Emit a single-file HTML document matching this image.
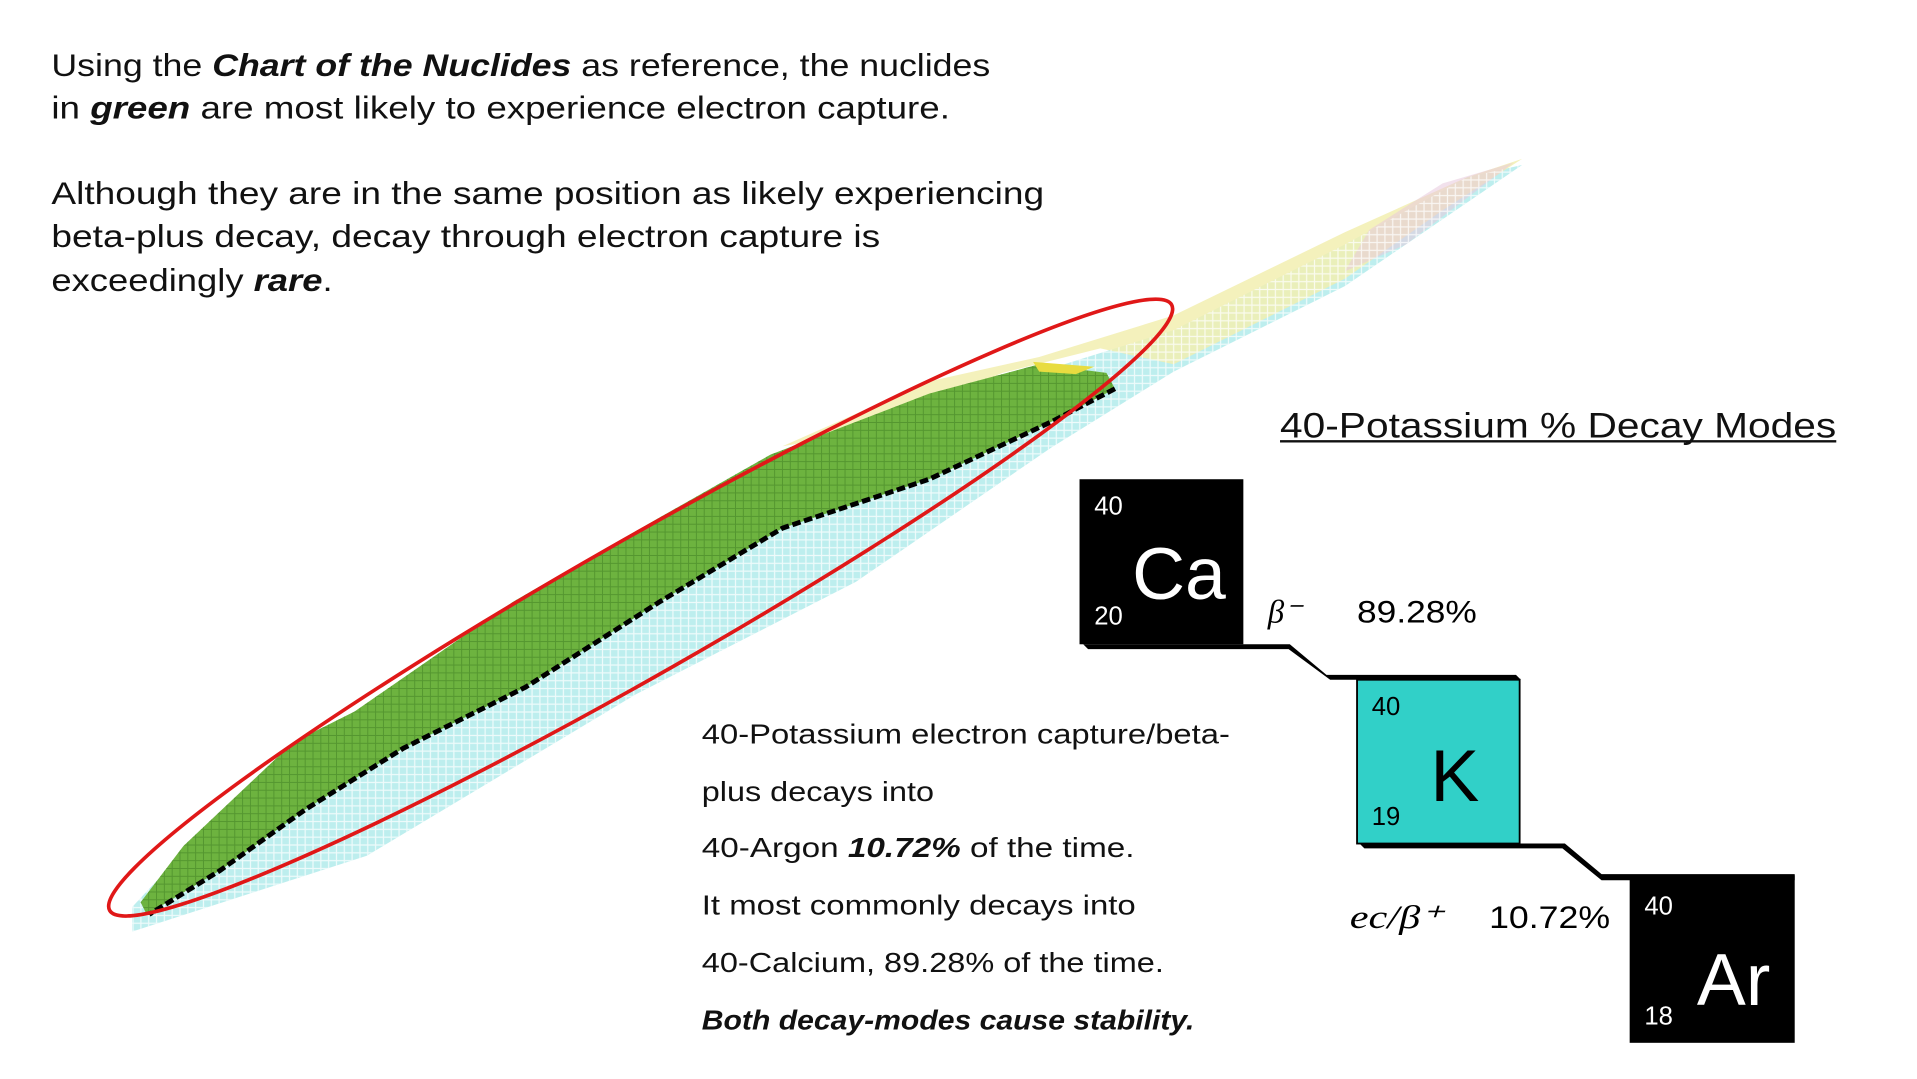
<!DOCTYPE html>
<html><head><meta charset="utf-8"><style>
html,body{margin:0;padding:0;background:#fff;overflow:hidden}
svg{display:block;font-family:"Liberation Sans",sans-serif}
</style></head><body>
<svg width="1917" height="1079" viewBox="0 0 1568 882.6">
<defs>
<pattern id="grid" width="6.4" height="6.4" patternUnits="userSpaceOnUse"><rect width="6.4" height="6.4" fill="none" stroke="#fff" stroke-width="1" opacity="0.75"/></pattern>
<pattern id="gridg" width="6.4" height="6.4" patternUnits="userSpaceOnUse"><rect width="6.4" height="6.4" fill="none" stroke="#4a8a2a" stroke-width="0.8" opacity="0.7"/></pattern>
</defs>
<g>
<polygon fill="#bdeeee" points="108,762 300,700 520,568 700,476 860,366 960,304 1100,234 1245,135 1200,145 1100,200 960,270 800,320 640,380 520,455 400,525 280,595 180,665 108,742"/>
<polygon fill="#f2eeb0" opacity="0.85" points="1245,130 1200,145 1100,190 960,258 850,292 760,312 640,365 700,355 820,305 900,285 960,298 1100,228 1180,172"/>
<polygon fill="#e8c8dc" opacity="0.55" points="1180,150 1238,133 1150,200 1100,222 1120,188"/>
<polygon fill="url(#grid)" points="108,762 300,700 520,568 700,476 860,366 960,304 1100,234 1245,135 1200,145 1100,200 960,270 800,320 640,380 520,455 400,525 280,595 180,665 108,742"/>
<polygon fill="#6db33f" points="115,738 150,692 240,607 290,582 420,492 540,423 630,372 760,322 850,298 905,305 912,318 860,345 760,392 640,432 540,492 430,562 330,612 250,662 180,712 120,748"/>
<polygon fill="url(#gridg)" points="115,738 150,692 240,607 290,582 420,492 540,423 630,372 760,322 850,298 905,305 912,318 860,345 760,392 640,432 540,492 430,562 330,612 250,662 180,712 120,748"/>
<polygon fill="#e8dc40" points="845,296 895,300 880,306 850,304"/>
<polyline fill="none" stroke="#000" stroke-width="4" stroke-dasharray="7 3" points="912,318 860,345 760,392 640,432 540,492 430,562 330,612 250,662 180,712 122,748"/>
</g>
<ellipse cx="524" cy="497" rx="500" ry="55" transform="rotate(-29.7 524 497)" fill="none" stroke="#e01818" stroke-width="3"/>
<g font-size="26" fill="#111">
<text x="42" y="62" textLength="768" lengthAdjust="spacingAndGlyphs">Using the <tspan font-weight="bold" font-style="italic">Chart of the Nuclides</tspan> as reference, the nuclides</text>
<text x="42" y="97" textLength="735" lengthAdjust="spacingAndGlyphs">in <tspan font-weight="bold" font-style="italic">green</tspan> are most likely to experience electron capture.</text>
<text x="42" y="167" textLength="812" lengthAdjust="spacingAndGlyphs">Although they are in the same position as likely experiencing</text>
<text x="42" y="202" textLength="678" lengthAdjust="spacingAndGlyphs">beta-plus decay, decay through electron capture is</text>
<text x="42" y="238" textLength="230" lengthAdjust="spacingAndGlyphs">exceedingly <tspan font-weight="bold" font-style="italic">rare</tspan>.</text>
</g>
<text x="1047" y="358" font-size="29" textLength="455" lengthAdjust="spacingAndGlyphs" fill="#111">40-Potassium  % Decay Modes</text>
<line x1="1047" y1="361" x2="1502" y2="361" stroke="#111" stroke-width="2"/>
<g>
<polygon fill="#000" points="886,527 1055,527 1085,552 1240,552 1244,556 1110,556 1088,556 1054,531 890,531"/>
<polygon fill="#000" points="1112,690 1280,690 1310,715 1468,715 1468,720 1310,720 1278,694 1116,694"/>
<g>
<rect x="883" y="392" width="134" height="135" fill="#000"/>
<text x="895" y="421" font-size="21" fill="#fff">40</text>
<text x="895" y="511" font-size="21" fill="#fff">20</text>
<text x="926" y="490" font-size="60" fill="#fff">Ca</text>
</g>
<g>
<rect x="1110" y="556" width="133" height="134" fill="#31d0c8" stroke="#000" stroke-width="1.5"/>
<text x="1122" y="585" font-size="21" fill="#000">40</text>
<text x="1122" y="675" font-size="21" fill="#000">19</text>
<text x="1170" y="655" font-size="60" fill="#000">K</text>
</g>
<g>
<rect x="1333" y="716" width="135" height="137" fill="#000"/>
<text x="1345" y="748" font-size="21" fill="#fff">40</text>
<text x="1345" y="838" font-size="21" fill="#fff">18</text>
<text x="1388" y="822" font-size="60" fill="#fff">Ar</text>
</g>
<text x="1037" y="509" font-size="27" font-style="italic" font-family="Liberation Serif, serif">β⁻</text>
<text x="1110" y="509" font-size="26" textLength="98" lengthAdjust="spacingAndGlyphs">89.28%</text>
<text x="1104" y="759" font-size="27" font-style="italic" font-family="Liberation Serif, serif" textLength="76" lengthAdjust="spacingAndGlyphs">ec/β⁺</text>
<text x="1218" y="759" font-size="26" textLength="99" lengthAdjust="spacingAndGlyphs">10.72%</text>
</g>
<g font-size="23" fill="#111">
<text x="574" y="608" textLength="432" lengthAdjust="spacingAndGlyphs">40-Potassium electron capture/beta-</text>
<text x="574" y="655" textLength="190" lengthAdjust="spacingAndGlyphs">plus decays into</text>
<text x="574" y="701" textLength="354" lengthAdjust="spacingAndGlyphs">40-Argon <tspan font-weight="bold" font-style="italic">10.72%</tspan> of the time.</text>
<text x="574" y="748" textLength="355" lengthAdjust="spacingAndGlyphs">It most commonly decays into</text>
<text x="574" y="795" textLength="378" lengthAdjust="spacingAndGlyphs">40-Calcium, 89.28% of the time.</text>
<text x="574" y="842" textLength="403" lengthAdjust="spacingAndGlyphs" font-weight="bold" font-style="italic">Both decay-modes cause stability.</text>
</g>
</svg>
</body></html>
